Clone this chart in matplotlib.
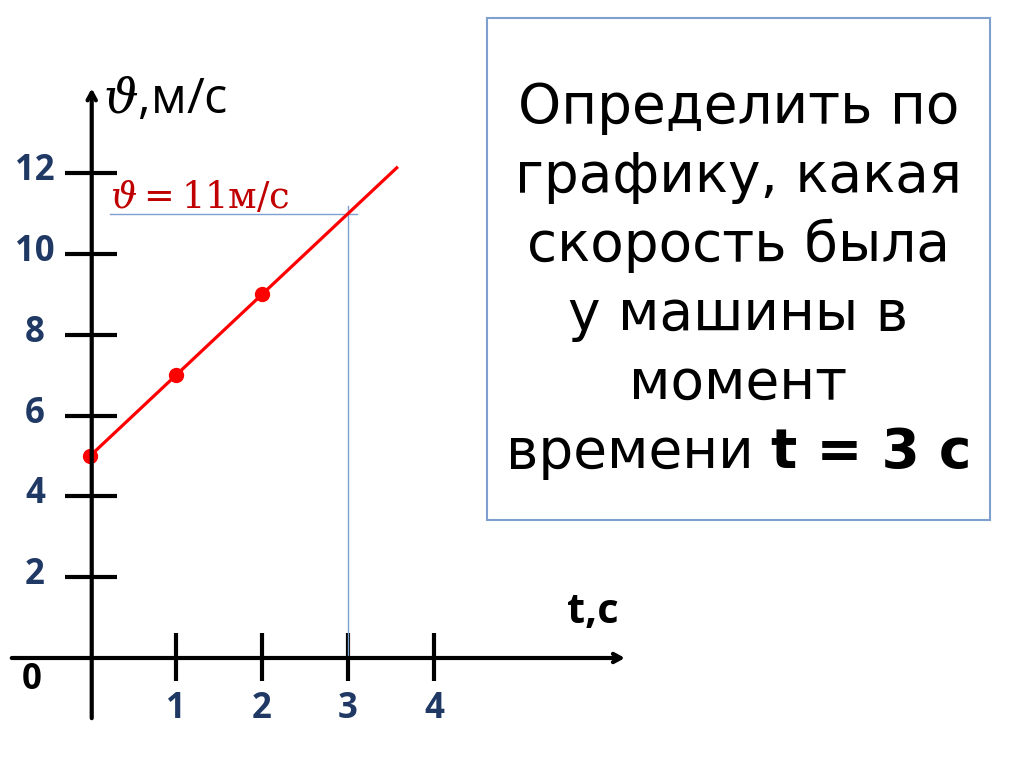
import matplotlib
matplotlib.use("Agg")
import matplotlib.pyplot as plt
from matplotlib.patches import Rectangle

# ---- data ----
t_points = [0, 1, 2]          # s
v_points = [5, 7, 9]          # m/s
t_line = [0, 3.58]            # extent of the drawn line
v_line = [5, 12.16]
t_query = 3
v_query = 11
y_ticks = [2, 4, 6, 8, 10, 12]
y_tick_labels = ["2", "4", "6", "8", "10", "12"]
x_ticks = [1, 2, 3, 4]
x_tick_labels = ["1", "2", "3", "4"]
question_lines = ["Определить по", "графику, какая", "скорость была",
                  "у машины в", "момент"]
question_last_regular = "времени "
question_last_bold = "t = 3 с"

W, H = 1024, 767
DPI = 100
fig = plt.figure(figsize=(W / DPI, H / DPI), dpi=DPI)
fig.patch.set_facecolor("white")
plt.rcParams["mathtext.fontset"] = "dejavuserif"

# pixel mapping: t=0 -> x=90px, 86 px per s; v=0 -> y=658px, 40.4 px per m/s
PX_T, X0 = 86.0, 90.0
PX_V, Y0 = 40.4, 658.0
ax = fig.add_axes([0, 0, 1, 1])
ax.set_xlim(-X0 / PX_T, (W - X0) / PX_T)
ax.set_ylim((Y0 - H) / PX_V, Y0 / PX_V)
ax.axis("off")

navy = "#1F3864"
red = "#FF0000"
guide = "#7F9FCF"
tick_fs = 25

# axes with arrows
ax.annotate("", xy=(0.02, 14.1), xytext=(0.02, -1.49),
            arrowprops=dict(arrowstyle="->,head_length=0.55,head_width=0.3",
                            lw=3, color="black", shrinkA=0, shrinkB=0))
ax.annotate("", xy=(6.22, 0), xytext=(-0.91, 0),
            arrowprops=dict(arrowstyle="->,head_length=0.55,head_width=0.3",
                            lw=3, color="black", shrinkA=0, shrinkB=0))

# y ticks
for v, lab in zip(y_ticks, y_tick_labels):
    ax.plot([-0.29, 0.31], [v, v], color="black", lw=3, solid_capstyle="butt")
    ax.text(-0.64, v + 0.05, lab, ha="center", va="center", color=navy,
            fontsize=tick_fs, fontweight="bold", family="Open Sans")
ax.text(-0.68, -0.54, "0", ha="center", va="center", color="black",
        fontsize=tick_fs, fontweight="bold", family="Open Sans")

# x ticks
for t, lab in zip(x_ticks, x_tick_labels):
    ax.plot([t, t], [-0.57, 0.62], color="black", lw=3, solid_capstyle="butt")
    ax.text(t, -1.25, lab, ha="center", va="center", color=navy,
            fontsize=tick_fs, fontweight="bold", family="Open Sans")

# guide lines for the reading at t = 3
ax.plot([0.23, 3.1], [v_query, v_query], color=guide, lw=1.0)
ax.plot([t_query, t_query], [v_query + 0.2, 0], color=guide, lw=1.0)

# red line and points
ax.plot(t_line, v_line, color=red, lw=2.3, solid_capstyle="butt")
ax.plot(t_points, v_points, linestyle="none", marker="o", markersize=10,
        markerfacecolor=red, markeredgecolor=red, markeredgewidth=1)

# axis labels
ax.text(0.15, 13.49, r"$\vartheta$,м/с", ha="left", va="baseline",
        fontsize=35, family="Open Sans", color="black")
ax.text(0.23, 11.14, r"$\vartheta = 11$м/с", ha="left", va="baseline",
        fontsize=26.5, family="DejaVu Serif", color="#C00000")
ax.text(5.55, 0.87, "t,с", ha="left", va="baseline", fontsize=30,
        fontweight="bold", family="Open Sans", color="black")

# question box
bx0, by0, bx1, by1 = 487, 18, 990, 520
fig.patches.append(Rectangle((bx0 / W, 1 - by1 / H), (bx1 - bx0) / W,
                             (by1 - by0) / H, transform=fig.transFigure,
                             facecolor="none", edgecolor=guide, lw=1.5))
cx = (bx0 + bx1) / 2 / W
qfs = 39.5
qfam = "DejaVu Sans"
for i, line in enumerate(question_lines):
    base = 123 + 69 * i
    fig.text(cx, 1 - base / H, line, ha="center", va="baseline",
             fontsize=qfs, family=qfam, color="black")

base = 123 + 69 * 5
renderer = fig.canvas.get_renderer()
t1 = fig.text(0, 1 - base / H, question_last_regular, ha="left", va="baseline",
              fontsize=qfs, family=qfam, color="black")
t2 = fig.text(0, 1 - base / H, question_last_bold, ha="left", va="baseline",
              fontsize=qfs, family=qfam, fontweight="bold", color="black")
w1 = t1.get_window_extent(renderer).width
w2 = t2.get_window_extent(renderer).width
left = (bx0 + bx1) / 2 - (w1 + w2) / 2
t1.set_x(left / W)
t2.set_x((left + w1) / W)

fig.savefig("out.png", dpi=DPI, facecolor="white")
